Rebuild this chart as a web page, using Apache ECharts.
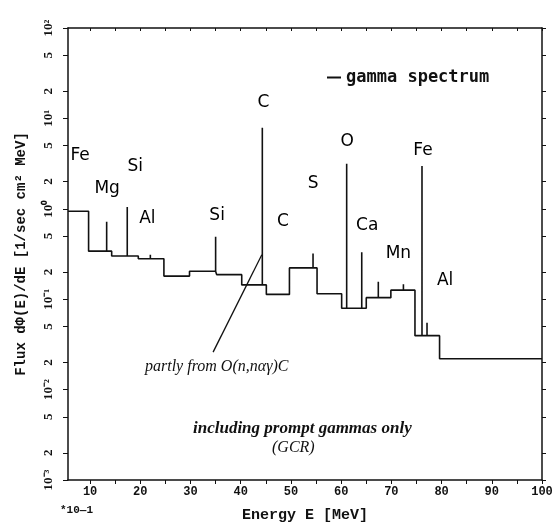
<!DOCTYPE html>
<html><head><meta charset="utf-8">
<script src="https://cdn.jsdelivr.net/npm/echarts@6/dist/echarts.min.js"></script>
<style>html,body{margin:0;padding:0;background:#fff}#c{width:557px;height:528px}</style>
</head><body><div id="c"></div>
<script>
const xMin = 5.6, xMax = 100;
const yMin = 0.001, yMax = 100;
const stepEdges = [5.6, 9.7, 14.3, 19.6, 24.7, 29.8, 35.2, 40.2, 45.1, 49.7, 55.2, 60.1, 65.0, 69.9, 74.7, 79.6, 100];
const stepLevels = [0.94, 0.34, 0.30, 0.28, 0.18, 0.204, 0.187, 0.144, 0.113, 0.222, 0.115, 0.0795, 0.104, 0.126, 0.0395, 0.0219];
const peakEnergies = [8.3, 13.3, 17.4, 22.0, 35.0, 44.3, 54.4, 61.1, 64.1, 67.4, 72.4, 76.1, 77.1];
const peakValues = [0.98, 0.72, 1.05, 0.31, 0.49, 7.9, 0.32, 3.15, 0.33, 0.156, 0.146, 2.97, 0.055];
const elementNames = ['Fe', 'Mg', 'Si', 'Al', 'Si', 'C', 'C', 'S', 'O', 'Ca', 'Fe', 'Mn', 'Al'];
const elementE = [8.0, 13.4, 19.0, 21.4, 35.3, 44.5, 48.4, 54.4, 61.2, 65.2, 76.3, 71.4, 80.7];
const elementY = [3.85, 1.67, 2.92, 0.785, 0.85, 15.1, 0.73, 1.9, 5.6, 0.66, 4.37, 0.32, 0.16];
const xTickValues = [10, 15, 20, 25, 30, 35, 40, 45, 50, 55, 60, 65, 70, 75, 80, 85, 90, 95, 100];
const xLabelValues = [10, 20, 30, 40, 50, 60, 70, 80, 90, 100];
const yTickValues = [0.001, 0.002, 0.005, 0.01, 0.02, 0.05, 0.1, 0.2, 0.5, 1, 2, 5, 10, 20, 50, 100];
const yTickLabels = ['10⁻³', '2', '5', '10⁻²', '2', '5', '10⁻¹', '2', '5', '10⁰', '2', '5', '10¹', '2', '5', '10²'];
const reactionLine = [[34.5, 0.026], [44.2, 0.31]];

const spectrum = [];
for (let i = 0; i < stepLevels.length; i++) {
  const a = stepEdges[i], b = stepEdges[i + 1], lv = stepLevels[i];
  spectrum.push([a, lv]);
  peakEnergies.forEach((e, j) => {
    if (e >= a && e < b) spectrum.push([e, lv], [e, peakValues[j]], [e, lv]);
  });
  spectrum.push([b, lv]);
}
const elementData = elementNames.map((n, i) => [elementE[i], elementY[i], n]);

function yLabel(v) {
  let best = 0, bd = Infinity;
  yTickValues.forEach((t, i) => { const d = Math.abs(Math.log10(t) - Math.log10(v)); if (d < bd) { bd = d; best = i; } });
  return yTickLabels[best];
}

const ink = '#111';
const chart = echarts.init(document.getElementById('c'));
chart.setOption({
  backgroundColor: '#fff',
  animation: false,
  grid: { left: 68, right: 15, top: 28, bottom: 44 },
  legend: {
    data: ['gamma spectrum'], left: 322, top: 64, icon: 'rect', itemWidth: 14, itemHeight: 2, itemGap: 6,
    textStyle: { fontFamily: 'DejaVu Sans Mono', fontWeight: 'bold', fontSize: 17, color: ink }
  },
  xAxis: [{
    type: 'value', min: xMin, max: xMax, position: 'bottom',
    name: 'Energy E [MeV]', nameLocation: 'middle', nameGap: 28,
    nameTextStyle: { fontFamily: 'Liberation Mono', fontWeight: 'bold', fontSize: 15, color: ink },
    axisLine: { lineStyle: { color: ink, width: 1.5 } },
    axisTick: { customValues: xTickValues, length: 4, lineStyle: { color: ink } },
    axisLabel: { customValues: xLabelValues, margin: 6, fontFamily: 'Liberation Mono', fontWeight: 'bold', fontSize: 12, color: ink },
    splitLine: { show: false }
  }, {
    type: 'value', min: xMin, max: xMax, position: 'top',
    axisLine: { lineStyle: { color: ink, width: 1.5 } },
    axisTick: { customValues: xTickValues, inside: true, length: 3, lineStyle: { color: ink } },
    axisLabel: { show: false }, splitLine: { show: false }
  }],
  yAxis: [{
    type: 'log', logBase: 10, min: yMin, max: yMax, position: 'left',
    name: 'Flux dΦ(E)/dE [1/sec cm² MeV]', nameLocation: 'middle', nameGap: 40, nameRotate: 90,
    nameTextStyle: { fontFamily: 'Liberation Mono', fontWeight: 'bold', fontSize: 14, color: ink },
    axisLine: { lineStyle: { color: ink, width: 1.5 } },
    axisTick: { customValues: yTickValues, length: 5, lineStyle: { color: ink } },
    axisLabel: { customValues: yTickValues, rotate: 90, margin: 13, formatter: yLabel, fontFamily: 'Liberation Serif', fontWeight: 'bold', fontSize: 13, color: ink },
    splitLine: { show: false }, minorTick: { show: false }
  }, {
    type: 'log', logBase: 10, min: yMin, max: yMax, position: 'right',
    axisLine: { lineStyle: { color: ink, width: 1.5 } },
    axisTick: { customValues: yTickValues, length: 4, lineStyle: { color: ink } },
    axisLabel: { show: false }, splitLine: { show: false }
  }],
  series: [{
    name: 'gamma spectrum', type: 'line', xAxisIndex: 0, yAxisIndex: 0,
    data: spectrum, showSymbol: false, symbol: 'none',
    lineStyle: { color: ink, width: 1.6 }, itemStyle: { color: ink }
  }, {
    name: 'reaction', type: 'line', data: reactionLine, showSymbol: false, symbol: 'none',
    lineStyle: { color: ink, width: 1.3 }
  }, {
    name: 'elements', type: 'scatter', data: elementData, symbolSize: 0,
    itemStyle: { opacity: 1, color: ink },
    label: { show: true, opacity: 1, position: [0, 0], align: 'center', verticalAlign: 'middle', formatter: p => p.value[2], fontFamily: 'DejaVu Sans', fontSize: 17, color: '#000' }
  }],
  graphic: [
    { type: 'text', left: 145, top: 359, style: { text: 'partly from O(n,nαγ)C', font: 'italic 16px "Liberation Serif"', fill: ink } },
    { type: 'text', left: 193, top: 420, style: { text: 'including prompt gammas only', font: 'italic bold 17px "Liberation Serif"', fill: ink } },
    { type: 'text', left: 272, top: 440, style: { text: '(GCR)', font: 'italic 16px "Liberation Serif"', fill: ink } },
    { type: 'text', left: 60, top: 505, style: { text: '*10—1', font: 'bold 11px "Liberation Mono"', fill: ink } }
  ]
});
</script></body></html>
